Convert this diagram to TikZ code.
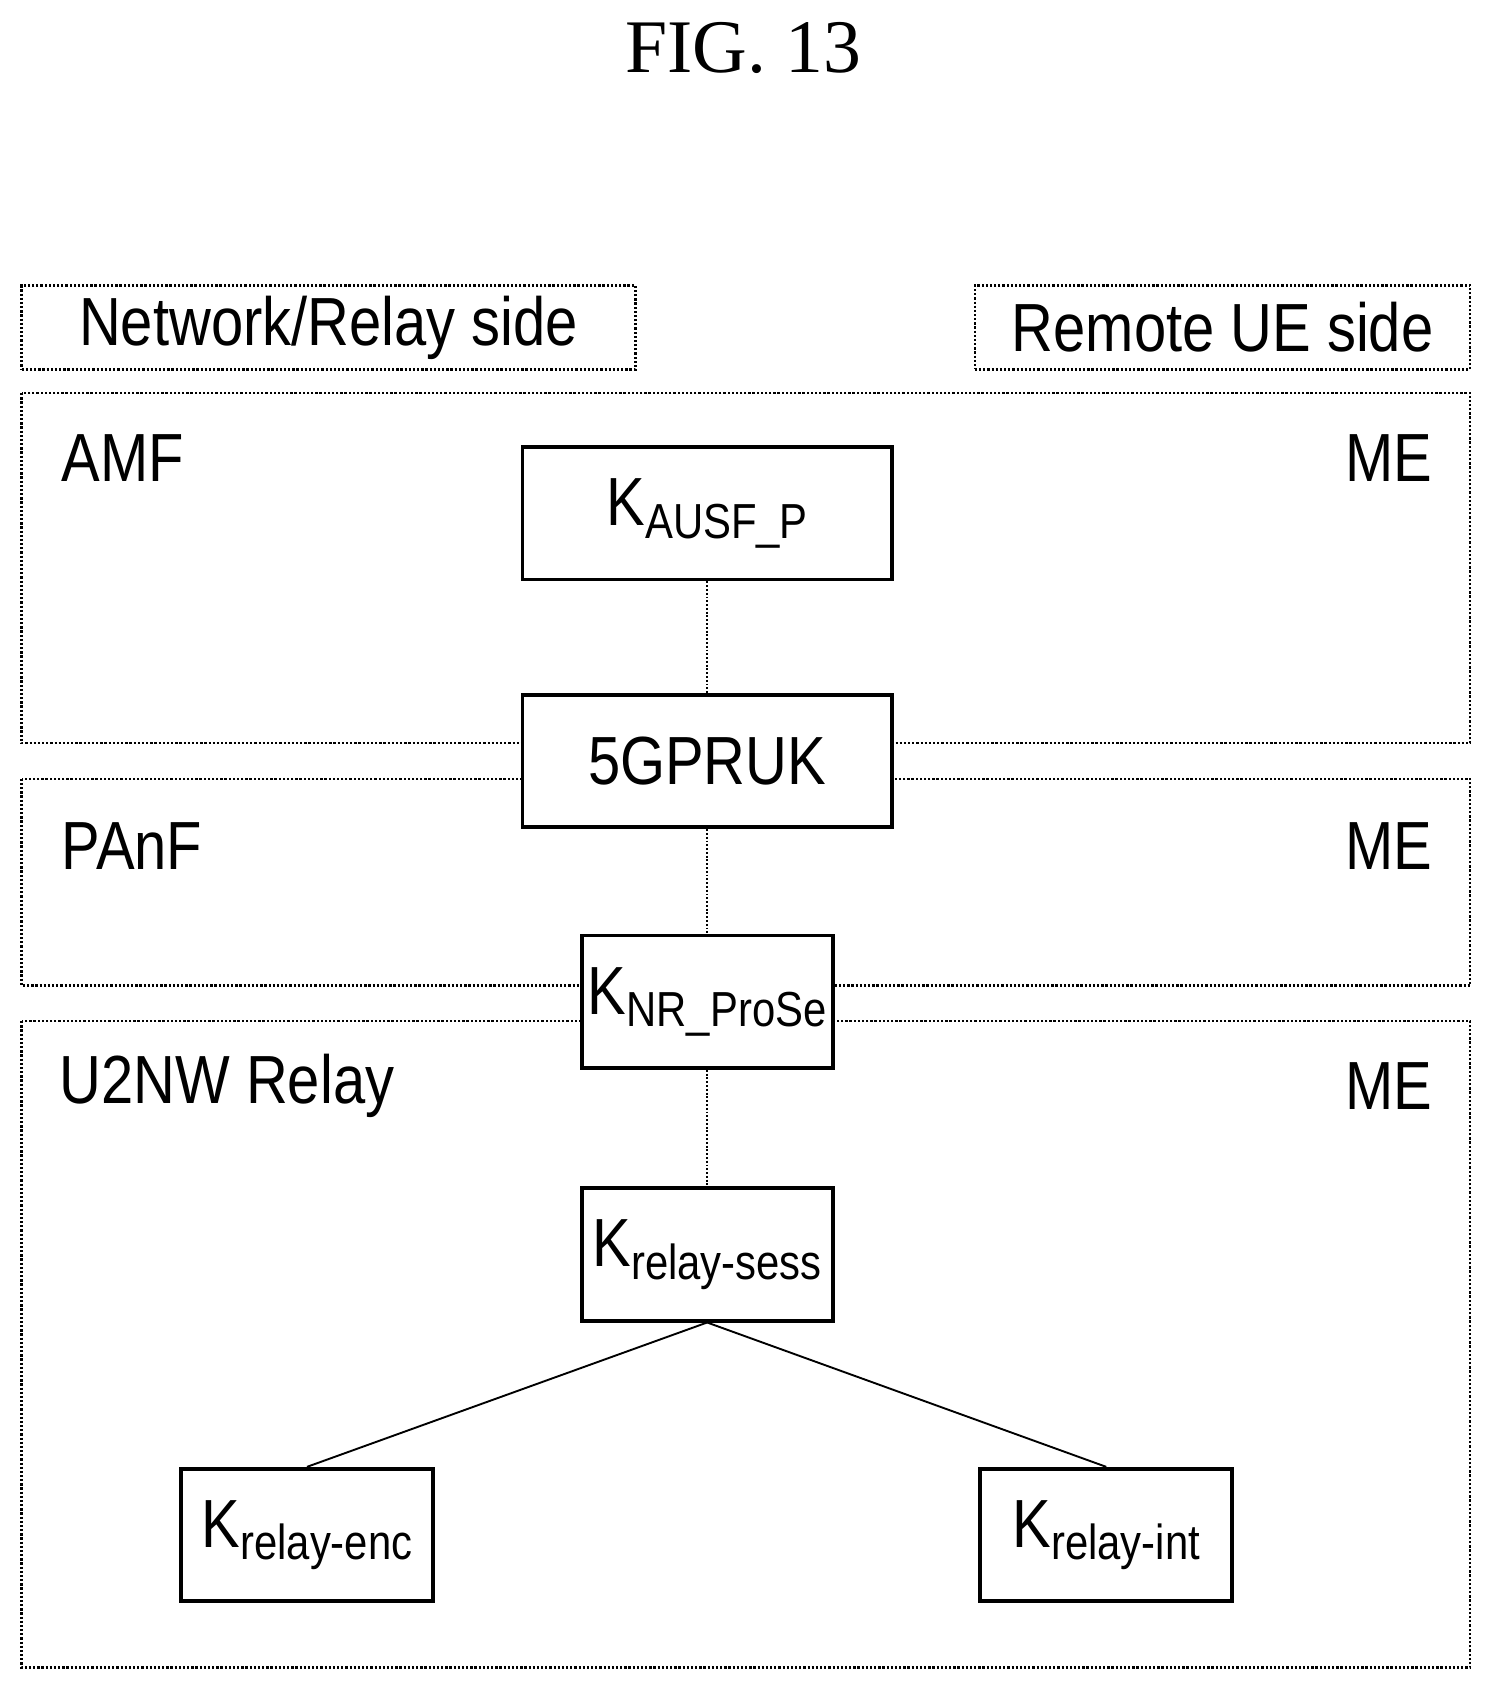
\documentclass[tikz,border=0pt]{standalone}
\usepackage{fontspec}
\setmainfont{Liberation Serif}
\newfontfamily\lab{Liberation Sans}[FakeStretch=0.85]
\newcommand{\ksub}[1]{K\raisebox{-0.35ex}{\fontsize{26}{28}\selectfont #1}}
\begin{document}
\begin{tikzpicture}[x=0.02cm,y=-0.02cm,
  panel/.style={draw,line width=1.2pt,densely dotted},
  key/.style={draw,line width=2pt,minimum width=#1,minimum height=2.46cm,inner sep=0pt,font=\lab\fontsize{36}{38}\selectfont},
  txt/.style={font=\lab\fontsize{36}{38}\selectfont,inner sep=0pt},
  conn/.style={draw,line width=1pt}]
\useasboundingbox (0,0) rectangle (1385,1568);
\node[font=\fontsize{40}{42}\selectfont] (title) at (690,45) {FIG. 13};
\node[panel,minimum width=11.4cm,minimum height=1.56cm,txt] (nr) at (305,304) {Network/Relay side};
\node[panel,minimum width=9.2cm,minimum height=1.56cm,txt] (ru) at (1135,304) {Remote UE side};
\draw[panel] (20,365) rectangle (1365,690);
\draw[panel] (20,723) rectangle (1365,915);
\draw[panel] (20,948) rectangle (1365,1548);
\node[txt,anchor=west] (amf) at (57,425) {AMF};
\node[txt,anchor=east] (me1) at (1330,425) {ME};
\node[txt,anchor=west] (panf) at (57,785) {PAnF};
\node[txt,anchor=east] (me2) at (1330,785) {ME};
\node[txt,anchor=west] (u2) at (55,1008) {U2NW Relay};
\node[txt,anchor=east] (me3) at (1330,1008) {ME};
\node[key=6.86cm,fill=white] (ka) at (656.5,476.5) {\ksub{AUSF\_P}};
\node[key=6.86cm,fill=white] (pr) at (656.5,706.5) {5GPRUK};
\node[key=4.66cm,fill=white] (kn) at (656.5,930) {\ksub{NR\_ProSe}};
\node[key=4.66cm,fill=white] (ks) at (656.5,1164.5) {\ksub{relay-sess}};
\node[key=4.68cm,fill=white] (ke) at (285,1425) {\ksub{relay-enc}};
\node[key=4.68cm,fill=white] (ki) at (1027,1425) {\ksub{relay-int}};
\draw[conn,densely dotted] (ka) -- (pr);
\draw[conn,densely dotted] (pr) -- (kn);
\draw[conn,densely dotted] (kn) -- (ks);
\draw[conn] (ks.south) -- (ke.north);
\draw[conn] (ks.south) -- (ki.north);
\end{tikzpicture}
\end{document}
